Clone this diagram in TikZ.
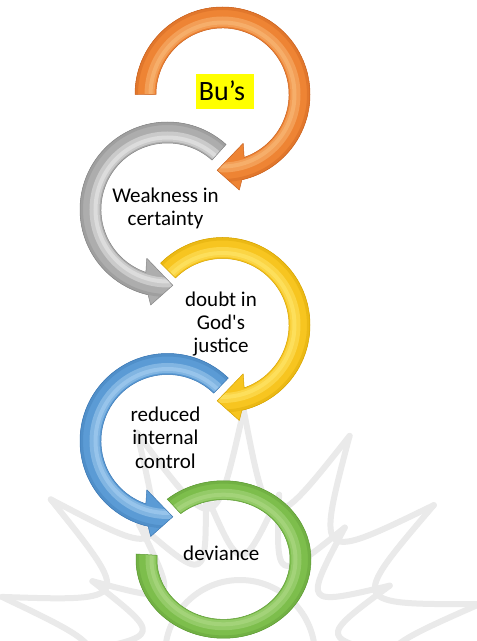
\documentclass[tikz,border=0pt]{standalone}
\usepackage{fontspec}
\setmainfont{Carlito}
\newfontfamily\calib{Carlito}
\usetikzlibrary{calc}
\definecolor{orgBase}{HTML}{EE8434}\definecolor{orgLight}{HTML}{F8B878}\definecolor{orgDark}{HTML}{C8601E}
\definecolor{gryBase}{HTML}{ADADAD}\definecolor{gryLight}{HTML}{E8E8E8}\definecolor{gryDark}{HTML}{858585}
\definecolor{ylwBase}{HTML}{F7C520}\definecolor{ylwLight}{HTML}{FFE56A}\definecolor{ylwDark}{HTML}{D6A300}
\definecolor{bluBase}{HTML}{5B9BD5}\definecolor{bluLight}{HTML}{A6CEF0}\definecolor{bluDark}{HTML}{3C78B4}
\definecolor{grnBase}{HTML}{7DBE4C}\definecolor{grnLight}{HTML}{ACD884}\definecolor{grnDark}{HTML}{5E9A36}
\definecolor{hilite}{HTML}{FFFF00}
\definecolor{wmark}{HTML}{EAEAEA}
% ring layers (inside the clip)
\newcommand{\ringfill}[1]{%
  \fill[#1Base] (0,0) circle[radius=104pt];
  \draw[#1Dark!35!#1Base, line width=3pt] (0,0) circle[radius=86pt];
  \draw[#1Light!50!#1Base, line width=10pt] (0,0) circle[radius=73pt];
  \draw[#1Light!80!#1Base, line width=4pt] (0,0) circle[radius=72pt];
}
% arrow with head: #1 colour, #2 start, #3 outer shaft end, #4 inner shaft end,
% #5 outer corner, #6 inner corner, #7 tip
\newcommand{\ringarrow}[7]{%
  \begin{scope}
    \clip (#2:87.5pt) arc[start angle=#2, end angle=#3, radius=87.5pt] -- (#5:97pt) -- (#7:76pt) -- (#6:53pt) -- (#4:66.5pt) arc[start angle=#4, end angle=#2, radius=66.5pt] -- cycle;
    \ringfill{#1}
  \end{scope}
  \draw[#1Dark, line width=0.5pt, line join=round] (#2:87.5pt) arc[start angle=#2, end angle=#3, radius=87.5pt] -- (#5:97pt) -- (#7:76pt) -- (#6:53pt) -- (#4:66.5pt) arc[start angle=#4, end angle=#2, radius=66.5pt] -- cycle;
}
% plain ring segment: #1 colour, #2 start, #3 end
\newcommand{\ringplain}[3]{%
  \begin{scope}
    \clip (#2:87.5pt) arc[start angle=#2, end angle=#3, radius=87.5pt] -- (#3:66.5pt) arc[start angle=#3, end angle=#2, radius=66.5pt] -- cycle;
    \ringfill{#1}
  \end{scope}
  \draw[#1Dark, line width=0.5pt] (#2:87.5pt) arc[start angle=#2, end angle=#3, radius=87.5pt] -- (#3:66.5pt) arc[start angle=#3, end angle=#2, radius=66.5pt] -- cycle;
}
\tikzset{
  lbl/.style={font=\calib\fontsize{21}{23.3}\selectfont, align=center, inner sep=0pt, anchor=base, text=black},
  wm/.style={draw=wmark, line width=6pt, line cap=round, line join=round}
}
\begin{document}
\begin{tikzpicture}[x=1pt,y=1pt]
\useasboundingbox (0,0) rectangle (477,641);
\fill[white] (0,0) rectangle (477,641);
% faint watermark
\begin{scope}
  \clip (0,0) rectangle (477,641);
  \coordinate (wc) at (240,-14);
  \foreach \k in {0,...,13}{
    \pgfmathsetmacro\ta{12+25.714*\k}
    \pgfmathsetmacro\tb{\ta+25.714}
    \pgfmathsetmacro\tm{\ta+12.857}
    \draw[wm] ($(wc)+(\ta:245)$) .. controls ($(wc)+(\tm:120)$) .. ($(wc)+(\tb:245)$);
    \draw[wm] ($(wc)+(\tm:165)$) .. controls ($(wc)+(\tb:80)$) .. ($(wc)+(\tb+12.857:165)$);
  }
  \draw[wm] (wc) circle[radius=75];
\end{scope}
% rings
\begin{scope}[shift={(223.5,81.5)}, yscale=0.9]
  \ringplain{grn}{130}{-184}
\end{scope}
\begin{scope}[shift={(167.5,200)}]
  \ringarrow{blu}{46}{257.2}{251}{260}{247}{274}
\end{scope}
\begin{scope}[shift={(222.5,316)}]
  \ringarrow{ylw}{135}{-77.2}{-71}{-80}{-67}{-94}
\end{scope}
\begin{scope}[shift={(167.5,431.5)}]
  \ringarrow{gry}{48}{257.2}{251}{260}{247}{274}
\end{scope}
\begin{scope}[shift={(222.5,546.5)}]
  \ringarrow{org}{180}{-77.2}{-71}{-80}{-67}{-94}
\end{scope}
% labels
\fill[hilite] (196,532) rectangle (254,567);
\node[lbl, font=\calib\fontsize{28}{30}\selectfont] (bus) at (222,540.3) {Bu’s};
\node[lbl] (weak) at (165.5,415) {Weakness in\\certainty};
\node[lbl] (doubt) at (221,288.3) {doubt in\\God's\\justice};
\node[lbl] (reduced) at (165.5,172.7) {reduced\\internal\\control};
\node[lbl] (dev) at (221.3,80) {deviance};
\end{tikzpicture}
\end{document}
